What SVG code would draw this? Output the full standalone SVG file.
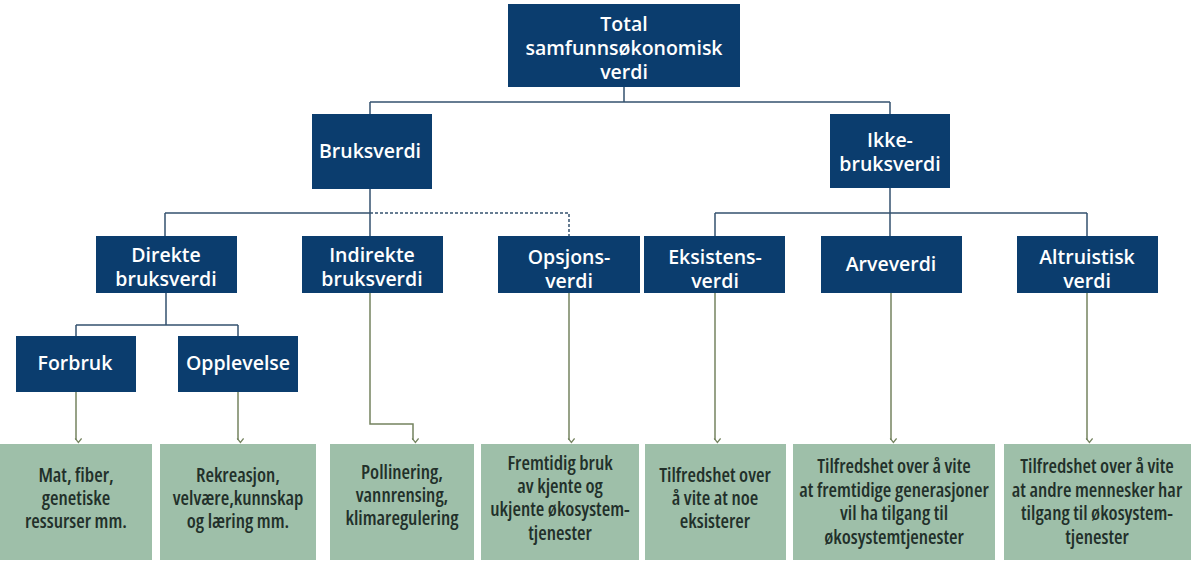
<svg xmlns="http://www.w3.org/2000/svg" width="1200" height="562" viewBox="0 0 1200 562">
<defs>
<style>
.n{fill:#0b3d6e}
.g{fill:#9ebfa9}
.nt{font-family:"Open Sans","Noto Sans",sans-serif;font-weight:600;font-size:19.5px;fill:#fff;text-anchor:middle}
.gt{font-family:"Open Sans","Noto Sans",sans-serif;font-stretch:condensed;font-weight:600;font-size:19.5px;fill:#22302a;text-anchor:middle}
.c{fill:none;stroke:#34526f;stroke-width:1.5}
.d{fill:none;stroke:#34526f;stroke-width:1.5;stroke-dasharray:3 2}
.a{fill:none;stroke:#74835f;stroke-width:1.5;marker-end:url(#ah)}
</style>
<marker id="ah" viewBox="0 0 10 10" refX="5" refY="8" markerWidth="8" markerHeight="8" markerUnits="userSpaceOnUse" orient="auto-start-reverse">
<path d="M1,3 L5,8 L9,3" fill="none" stroke="#74835f" stroke-width="1.6" transform="rotate(-90 5 5)"/>
</marker>
</defs>
<rect width="1200" height="562" fill="#fff"/>
<g id="connectors">
<path class="c" d="M624,87 V102 M370,102 H890 M370,102 V114 M890,102 V114"/>
<path class="c" d="M370,189 V236 M165,213 H370 M165,213 V236"/>
<path class="d" d="M370,213 H569 V236"/>
<path class="c" d="M890,188 V236 M715,213 H1087 M715,213 V236 M1087,213 V236"/>
<path class="c" d="M166,293 V325 M76,325 H238 M76,325 V336 M238,325 V336"/>
<path class="a" d="M76,392 V440"/>
<path class="a" d="M238,392 V440"/>
<path class="a" d="M370,293 V424 H413 V440"/>
<path class="a" d="M569,293 V440"/>
<path class="a" d="M715,293 V440"/>
<path class="a" d="M891,293 V440"/>
<path class="a" d="M1087,293 V440"/>
</g>
<g id="total"><rect class="n" x="508" y="4" width="232" height="83"/><text class="nt"><tspan x="624" y="31">Total</tspan><tspan x="624" y="55">samfunnsøkonomisk</tspan><tspan x="624" y="79">verdi</tspan></text></g>
<g id="bruksverdi"><rect class="n" x="312" y="114" width="120" height="75"/><text class="nt" x="370" y="158">Bruksverdi</text></g>
<g id="ikkebruksverdi"><rect class="n" x="830" y="114" width="120" height="74"/><text class="nt"><tspan x="890" y="147">Ikke-</tspan><tspan x="890" y="171">bruksverdi</tspan></text></g>
<g id="direkte"><rect class="n" x="96" y="236" width="141" height="57"/><text class="nt"><tspan x="166" y="262">Direkte</tspan><tspan x="166" y="286">bruksverdi</tspan></text></g>
<g id="indirekte"><rect class="n" x="302" y="236" width="141" height="57"/><text class="nt"><tspan x="372" y="262">Indirekte</tspan><tspan x="372" y="286">bruksverdi</tspan></text></g>
<g id="opsjon"><rect class="n" x="498" y="236" width="142" height="57"/><text class="nt"><tspan x="569" y="264">Opsjons-</tspan><tspan x="569" y="288">verdi</tspan></text></g>
<g id="eksistens"><rect class="n" x="644" y="236" width="141" height="57"/><text class="nt"><tspan x="715" y="264">Eksistens-</tspan><tspan x="715" y="288">verdi</tspan></text></g>
<g id="arve"><rect class="n" x="821" y="236" width="141" height="57"/><text class="nt" x="891" y="271">Arveverdi</text></g>
<g id="altruistisk"><rect class="n" x="1017" y="236" width="141" height="57"/><text class="nt"><tspan x="1087" y="264">Altruistisk</tspan><tspan x="1087" y="288">verdi</tspan></text></g>
<g id="forbruk"><rect class="n" x="16" y="336" width="120" height="56"/><text class="nt" x="75" y="370">Forbruk</text></g>
<g id="opplevelse"><rect class="n" x="178" y="336" width="120" height="56"/><text class="nt" x="238" y="370">Opplevelse</text></g>
<g id="g1"><rect class="g" x="0" y="444" width="152" height="116"/><text class="gt"><tspan x="76" y="482">Mat, fiber,</tspan><tspan x="76" y="505">genetiske</tspan><tspan x="76" y="528">ressurser mm.</tspan></text></g>
<g id="g2"><rect class="g" x="160" y="444" width="156" height="116"/><text class="gt"><tspan x="238" y="482">Rekreasjon,</tspan><tspan x="238" y="505">velvære,kunnskap</tspan><tspan x="238" y="528">og læring mm.</tspan></text></g>
<g id="g3"><rect class="g" x="330" y="444" width="144" height="116"/><text class="gt"><tspan x="402" y="479">Pollinering,</tspan><tspan x="402" y="502">vannrensing,</tspan><tspan x="402" y="525">klimaregulering</tspan></text></g>
<g id="g4"><rect class="g" x="481" y="444" width="158" height="116"/><text class="gt"><tspan x="560" y="470">Fremtidig bruk</tspan><tspan x="560" y="493">av kjente og</tspan><tspan x="560" y="516">ukjente økosystem-</tspan><tspan x="560" y="540">tjenester</tspan></text></g>
<g id="g5"><rect class="g" x="645" y="444" width="141" height="116"/><text class="gt"><tspan x="715" y="482">Tilfredshet over</tspan><tspan x="715" y="505">å vite at noe</tspan><tspan x="715" y="528">eksisterer</tspan></text></g>
<g id="g6"><rect class="g" x="793" y="444" width="202" height="116"/><text class="gt"><tspan x="894" y="473">Tilfredshet over å vite</tspan><tspan x="894" y="497">at fremtidige generasjoner</tspan><tspan x="894" y="520">vil ha tilgang til</tspan><tspan x="894" y="544">økosystemtjenester</tspan></text></g>
<g id="g7"><rect class="g" x="1004" y="444" width="187" height="116"/><text class="gt"><tspan x="1097" y="473">Tilfredshet over å vite</tspan><tspan x="1097" y="497">at andre mennesker har</tspan><tspan x="1097" y="520">tilgang til økosystem-</tspan><tspan x="1097" y="544">tjenester</tspan></text></g>
</svg>
